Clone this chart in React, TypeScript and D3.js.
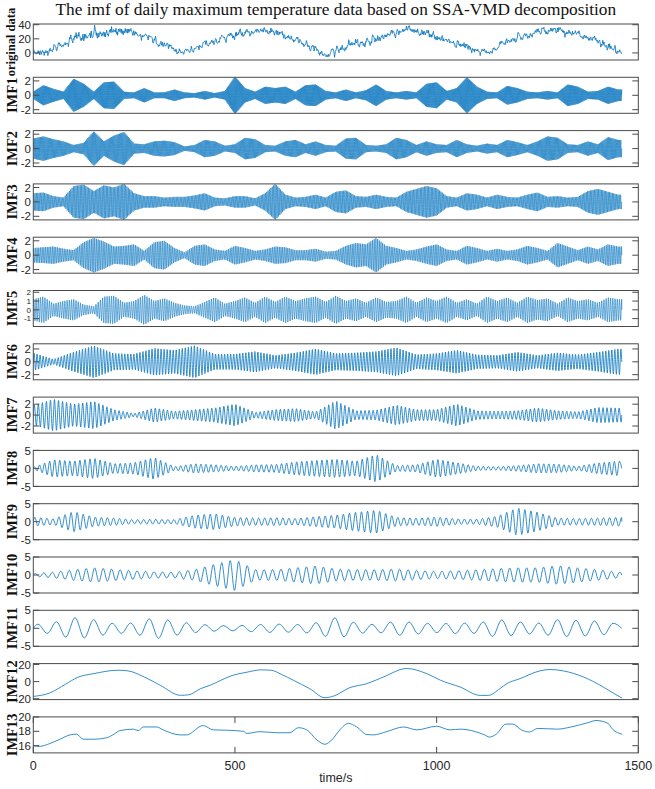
import React from "react";
import * as d3 from "d3";

const title = "The imf of daily maximum temperature data based on SSA-VMD decomposition";
const nDays = 1460;

const panelLabels = ["original data", "IMF1", "IMF2", "IMF3", "IMF4", "IMF5", "IMF6", "IMF7", "IMF8", "IMF9", "IMF10", "IMF11", "IMF12", "IMF13"];

// mean period (days) of each oscillating mode
const imfPeriods = [2.3, 2.8, 3.4, 4.2, 5.5, 7.5, 10, 12.5, 15, 21, 46];
// spacing (days) of the envelope readings for each mode
const envSteps = [25, 25, 25, 25, 25, 50, 50, 50, 50, 50, 50];

// amplitude envelopes
const imf1Env = [0.5, 1.4, 0.9, 0.5, 2.3, 1.6, 0.5, 1.8, 1.9, 0.5, 0.4, 1.0, 0.4, 0.4, 0.8, 0.4, 0.3, 0.6, 0.3, 0.6, 2.6, 1.0, 0.5, 1.2, 1.0, 1.2, 0.5, 1.4, 1.5, 0.6, 0.4, 0.8, 0.4, 0.7, 1.5, 0.6, 0.4, 0.6, 0.4, 1.6, 1.8, 0.6, 1.0, 2.5, 1.2, 0.5, 0.4, 1.3, 1.0, 0.5, 0.4, 0.6, 0.4, 1.5, 1.2, 0.5, 0.6, 1.2, 0.8];
const imf2Env = [1.4, 1.7, 1.3, 1.0, 0.5, 0.8, 2.4, 1.0, 1.8, 2.3, 0.7, 0.6, 1.0, 1.1, 0.9, 0.3, 0.5, 1.2, 1.0, 0.4, 0.6, 1.5, 1.3, 0.5, 0.4, 1.0, 1.2, 0.6, 1.0, 0.5, 0.4, 1.4, 1.5, 0.5, 0.4, 0.6, 1.5, 1.2, 0.5, 1.0, 0.6, 0.5, 1.2, 0.6, 0.4, 0.7, 0.5, 1.2, 0.9, 0.5, 1.0, 1.7, 1.5, 0.6, 0.5, 1.0, 0.6, 1.6, 1.2];
const imf3Env = [1.2, 1.3, 0.8, 0.6, 2.2, 2.4, 1.5, 2.3, 2.0, 2.5, 1.2, 0.8, 0.8, 0.6, 0.7, 0.7, 0.9, 1.2, 0.6, 0.5, 0.8, 0.8, 0.5, 1.2, 2.5, 1.0, 0.6, 0.7, 1.0, 0.6, 1.4, 1.6, 0.8, 0.7, 1.0, 0.7, 0.6, 1.4, 1.8, 2.2, 1.9, 0.8, 0.6, 1.2, 1.0, 0.6, 1.0, 0.7, 0.6, 1.0, 1.3, 0.7, 0.8, 0.6, 0.7, 1.5, 1.8, 1.4, 1.0];
const imf4Env = [1.0, 1.1, 1.2, 0.9, 0.7, 1.8, 2.4, 1.9, 1.2, 1.3, 1.5, 0.6, 1.8, 2.0, 1.0, 0.4, 1.3, 1.5, 0.8, 0.6, 1.3, 1.0, 0.6, 0.8, 1.2, 1.1, 0.7, 0.7, 0.9, 0.5, 0.6, 1.3, 1.7, 1.5, 2.4, 1.3, 1.0, 0.6, 0.8, 1.2, 1.5, 0.8, 0.6, 1.3, 1.0, 0.6, 0.9, 0.6, 0.8, 1.3, 1.0, 0.6, 1.7, 1.2, 0.7, 1.2, 0.8, 1.5, 1.2];
const imf5Env = [1.2, 1.5, 0.7, 1.0, 1.2, 0.6, 0.4, 1.5, 1.6, 0.8, 1.0, 1.7, 1.0, 1.3, 0.8, 0.5, 0.4, 0.9, 1.4, 0.7, 1.0, 1.4, 0.8, 1.5, 0.9, 1.5, 1.0, 1.3, 1.5, 0.9, 1.6, 1.0, 1.3, 0.8, 1.4, 0.9, 1.0, 1.5, 0.8, 1.4, 1.0, 1.5, 0.8, 1.2, 0.7, 1.5, 1.0, 1.4, 0.8, 1.5, 1.1, 1.3, 0.7, 1.4, 1.0, 1.2, 0.8, 1.4, 1.2];
const imf6Env = [1.4, 0.4, 1.5, 2.5, 1.3, 1.2, 2.1, 1.8, 2.5, 1.2, 1.2, 1.6, 1.0, 1.4, 2.0, 1.3, 1.4, 1.6, 2.2, 1.1, 1.3, 1.8, 1.1, 1.0, 1.5, 1.0, 1.4, 1.1, 1.5, 2.0];
const imf7Env = [1.8, 2.9, 2.0, 2.5, 1.0, 0.3, 1.3, 0.7, 1.0, 1.3, 2.0, 0.5, 1.0, 1.2, 0.6, 2.6, 0.8, 0.9, 1.8, 1.0, 1.0, 2.0, 0.8, 0.7, 0.8, 1.3, 0.8, 0.6, 1.4, 1.3];
const imf8Env = [0.3, 2.4, 2.0, 2.8, 1.3, 1.6, 3.0, 0.5, 1.3, 1.0, 0.6, 1.0, 1.1, 1.8, 2.2, 2.5, 2.0, 3.8, 0.8, 1.0, 2.5, 1.6, 0.6, 0.5, 0.8, 1.3, 1.2, 0.6, 1.5, 2.0];
const imf9Env = [1.3, 0.8, 2.8, 1.3, 1.0, 0.6, 0.7, 0.6, 1.8, 2.2, 1.2, 1.0, 1.1, 0.9, 1.4, 1.8, 2.6, 3.2, 1.2, 1.0, 1.3, 0.8, 0.7, 1.5, 3.8, 2.6, 1.0, 0.9, 1.0, 1.2];
const imf10Env = [0.4, 0.8, 1.5, 2.0, 1.6, 1.2, 0.9, 0.8, 1.5, 3.0, 4.3, 1.5, 1.5, 2.0, 2.5, 1.7, 1.5, 1.5, 1.7, 1.3, 1.0, 1.2, 1.5, 1.8, 2.0, 2.0, 2.6, 2.0, 1.5, 0.8];
const imf11Env = [1.0, 1.6, 3.0, 2.4, 1.3, 1.5, 3.0, 2.0, 1.2, 0.8, 0.7, 1.0, 1.2, 1.0, 1.5, 3.0, 1.5, 1.0, 2.0, 1.6, 1.2, 1.5, 1.4, 2.5, 1.8, 1.4, 2.4, 2.2, 2.0, 1.2];
const imfEnvelopes = [imf1Env, imf2Env, imf3Env, imf4Env, imf5Env, imf6Env, imf7Env, imf8Env, imf9Env, imf10Env, imf11Env];

// slow modes read directly
const imf12Days = [0, 40, 80, 110, 150, 210, 235, 275, 315, 365, 385, 415, 440, 465, 490, 530, 565, 590, 615, 645, 685, 723, 745, 785, 827, 868, 926, 975, 1010, 1058, 1108, 1128, 1157, 1174, 1207, 1256, 1281, 1314, 1364, 1413, 1438, 1460];
const imf12Values = [-17.3, -13.4, -3, 5, 9.3, 13.3, 12.5, 5.4, -4.4, -16, -15.4, -8.2, -4, 1.5, 6.6, 11, 13.7, 13.2, 8.5, 1.5, -8.2, -18.8, -16.8, -7, -2.4, 5.4, 15.3, 9.4, 1.5, -6.3, -16.1, -16.1, -8.2, -2.4, 3.5, 12.5, 14.1, 12.5, 5.4, -6.3, -13.4, -19.3];
const imf13Days = [0, 15, 41, 66, 91, 107, 124, 150, 182, 200, 215, 248, 260, 273, 306, 322, 364, 380, 421, 446, 480, 521, 529, 562, 603, 636, 657, 678, 703, 723, 740, 760, 781, 802, 827, 843, 876, 918, 951, 1000, 1033, 1060, 1086, 1119, 1131, 1148, 1172, 1189, 1210, 1230, 1251, 1300, 1333, 1375, 1395, 1425, 1436, 1460];
const imf13Values = [16.0, 15.9, 16.3, 16.9, 17.5, 17.6, 16.9, 16.9, 17.1, 17.6, 18.1, 18.3, 18.1, 18.6, 18.6, 18.2, 17.5, 17.5, 18.8, 18.2, 18.15, 18.0, 17.7, 17.95, 17.8, 17.8, 18.5, 18.2, 16.8, 16.2, 16.8, 18.2, 19.1, 18.6, 17.55, 17.5, 17.95, 18.6, 18.2, 18.7, 18.2, 18.3, 18.1, 17.5, 17.2, 17.6, 19.0, 19.0, 18.2, 17.9, 18.4, 18.3, 18.6, 19.2, 19.5, 19.1, 18.3, 17.6];

const panelDomains = [[-10, 41], [-2.5, 2.5], [-2.5, 2.5], [-2.5, 2.5], [-2.5, 2.5], [-1.9, 2.2], [-2.8, 2.8], [-3.3, 3.3], [-5, 5], [-5, 5], [-5, 5], [-5, 5], [-21, 21], [15, 20]];
const panelTicks = [[0, 20, 40], [-2, 0, 2], [-2, 0, 2], [-2, 0, 2], [-2, 0, 2], [-1, 0, 1, 2], [-2, 0, 2], [-2, 0, 2], [-5, 0, 5], [-5, 0, 5], [-5, 0, 5], [-5, 0, 5], [-20, 0, 20], [16, 18, 20]];
const xTicks = [0, 500, 1000, 1500];

type Pt = [number, number];

// alternate extrema following the read envelope
function oscillation(env: number[], envStep: number, period: number): Pt[] {
  const amp = d3.scaleLinear().domain(env.map((_, i) => i * envStep)).range(env).clamp(true);
  const pts: Pt[] = [[0, 0]];
  let sign = 1;
  for (let t = period / 4; t < nDays - 1; t += period / 2) {
    pts.push([t, sign * amp(t)]);
    sign = -sign;
  }
  pts.push([nDays - 1, 0]);
  return pts;
}

const interp = (pts: Pt[]) =>
  d3.scaleLinear().domain(pts.map((p) => p[0])).range(pts.map((p) => p[1])).clamp(true);

const imfSeries: Pt[][] = imfEnvelopes.map((e, i) => oscillation(e, envSteps[i], imfPeriods[i]));
const imf12: Pt[] = imf12Days.map((d, i) => [d, imf12Values[i]]);
const imf13: Pt[] = imf13Days.map((d, i) => [d, imf13Values[i]]);
const modes = [...imfSeries, imf12, imf13];
// the original series is the sum of all modes
const modeFns = modes.map(interp);
const original: Pt[] = d3.range(nDays).map((t) => [t, d3.sum(modeFns, (f) => f(t))]);
const allSeries = [original, ...modes];

const W = 655;
const H = 789;
const left = 33.3;
const right = 638.3;
const firstTop = 24;
const step = 53.3;
const ph = 36;
const blue = "#0072BD";
const axisColor = "#4a4a4a";
const tickLen = 6;

export default function App() {
  const x = d3.scaleLinear().domain([0, 1500]).range([left, right]);

  return (
    <div>
      <style>{"body{margin:0}"}</style>
      <svg width={W} height={H} style={{ display: "block", background: "#fff" }}>
        <text x={(left + right) / 2} y={15} textAnchor="middle" fontFamily="Liberation Serif" fontSize={17.3} fill="#111">
          {title}
        </text>
        {allSeries.map((series, i) => {
          const top = firstTop + i * step;
          const y = d3.scaleLinear().domain(panelDomains[i]).range([top + ph, top]);
          const line = d3
            .line<Pt>()
            .x((d) => x(d[0]))
            .y((d) => y(d[1]))
            .curve(i === 0 ? d3.curveLinear : d3.curveMonotoneX);
          const isLast = i === allSeries.length - 1;
          const tickFont = panelTicks[i].length > 3 ? 8 : 11.5;
          const dense = i >= 1 && i <= 5;
          return (
            <g key={i}>
              <clipPath id={`clip${i}`}>
                <rect x={left} y={top} width={right - left} height={ph} />
              </clipPath>
              <path d={line(series) || ""} fill="none" stroke={blue} strokeWidth={dense ? 0.6 : 0.8} clipPath={`url(#clip${i})`} />
              <rect x={left} y={top} width={right - left} height={ph} fill="none" stroke={axisColor} strokeWidth={1} />
              {panelTicks[i].map((t) => (
                <g key={t}>
                  <line x1={left} x2={left + tickLen} y1={y(t)} y2={y(t)} stroke={axisColor} />
                  <line x1={right} x2={right - tickLen} y1={y(t)} y2={y(t)} stroke={axisColor} />
                  <text x={31} y={y(t)} dy="0.36em" textAnchor="end" fontFamily="Liberation Sans" fontSize={tickFont} fill="#262626">
                    {t}
                  </text>
                </g>
              ))}
              {isLast &&
                xTicks.map((t) => (
                  <g key={t}>
                    <line x1={x(t)} x2={x(t)} y1={top + ph} y2={top + ph - tickLen} stroke={axisColor} />
                    <line x1={x(t)} x2={x(t)} y1={top} y2={top + tickLen} stroke={axisColor} />
                    <text x={x(t)} y={top + ph + 17} textAnchor="middle" fontFamily="Liberation Sans" fontSize={12.5} fill="#262626">
                      {t}
                    </text>
                  </g>
                ))}
              <text
                transform={`translate(${i === 0 ? 14.5 : 16.5},${top + ph / 2}) rotate(-90)`}
                textAnchor="middle"
                fontFamily="Liberation Serif"
                fontWeight="bold"
                fontSize={i === 0 ? 12.5 : 14.5}
                fill="#111"
              >
                {panelLabels[i]}
              </text>
            </g>
          );
        })}
        <text x={(left + right) / 2} y={782} textAnchor="middle" fontFamily="Liberation Sans" fontSize={12.5} fill="#262626">
          time/s
        </text>
      </svg>
    </div>
  );
}
